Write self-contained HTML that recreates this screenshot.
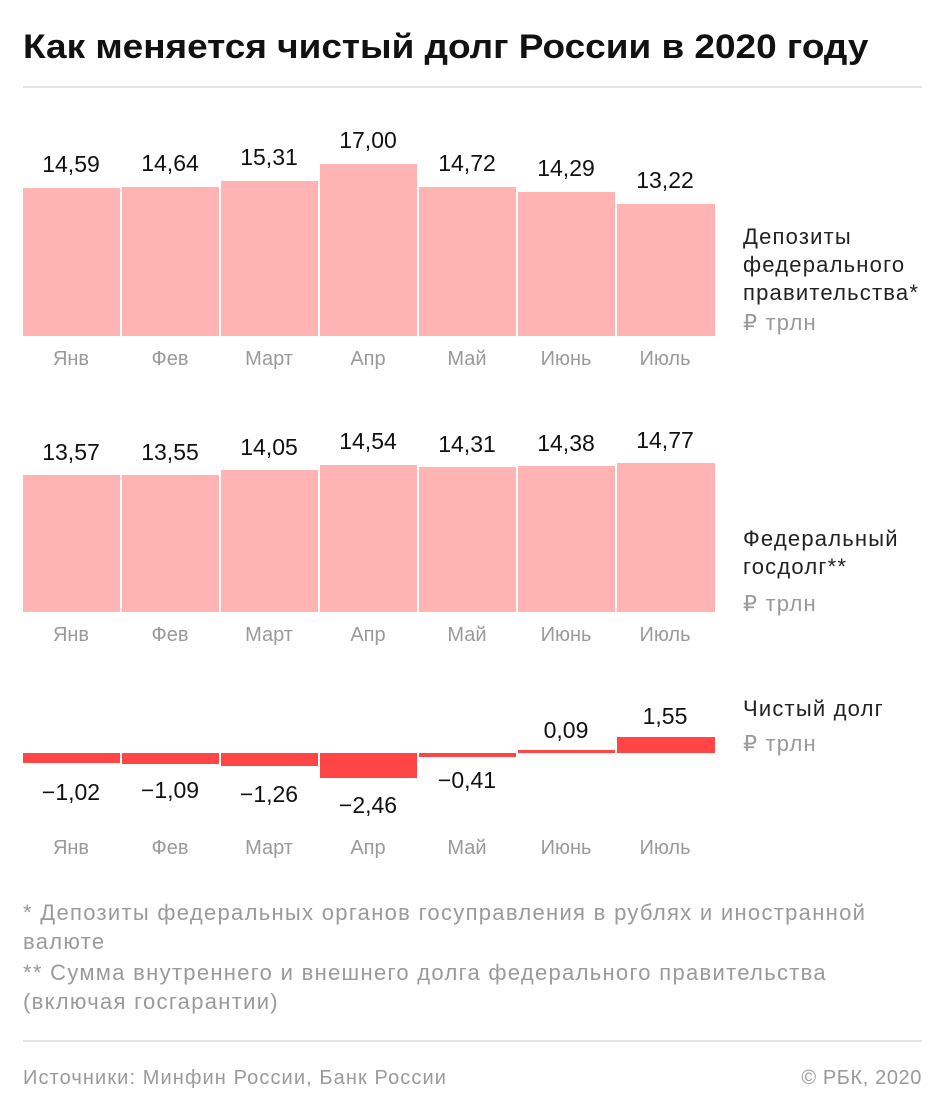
<!DOCTYPE html>
<html><head><meta charset="utf-8"><style>
body{margin:0;width:945px;height:1118px;background:#fff;position:relative;overflow:hidden;font-family:"Liberation Sans","Noto Sans CJK SC",sans-serif}
.a{position:absolute}
.t{position:absolute;height:28px;line-height:28px;white-space:nowrap}
.v{width:120px;text-align:center;font-size:23px;color:#111}
.m{width:120px;text-align:center;font-size:20px;color:#9a9a9a}
.b{position:absolute;background:#ffb3b3}
.r{position:absolute;background:#ff4545}
.l{font-size:22px;color:#222;left:743px;letter-spacing:1.2px}
.g{font-size:22px;color:#9a9a9a}
.f{letter-spacing:1.3px}
</style></head><body>
<div class="t" style="left:23px;top:28px;height:38px;line-height:38px;font-size:34px;font-weight:bold;color:#111;transform:scaleX(1.087);transform-origin:left center">Как меняется чистый долг России в 2020 году</div>
<div class="a" style="left:23px;top:86px;width:899px;height:2px;background:#e4e4e4"></div>

<!-- chart 1 -->
<div class="b" style="left:23px;top:188px;width:97px;height:148px"></div>
<div class="b" style="left:122px;top:187px;width:97px;height:149px"></div>
<div class="b" style="left:221px;top:181px;width:97px;height:155px"></div>
<div class="b" style="left:320px;top:164px;width:97px;height:172px"></div>
<div class="b" style="left:419px;top:187px;width:97px;height:149px"></div>
<div class="b" style="left:518px;top:192px;width:97px;height:144px"></div>
<div class="b" style="left:617px;top:204px;width:98px;height:132px"></div>
<div class="t v" style="left:11px;top:150px">14,59</div>
<div class="t v" style="left:110px;top:149px">14,64</div>
<div class="t v" style="left:209px;top:143px">15,31</div>
<div class="t v" style="left:308px;top:126px">17,00</div>
<div class="t v" style="left:407px;top:149px">14,72</div>
<div class="t v" style="left:506px;top:154px">14,29</div>
<div class="t v" style="left:605px;top:166px">13,22</div>
<div class="t m" style="left:11px;top:345px">Янв</div>
<div class="t m" style="left:110px;top:345px">Фев</div>
<div class="t m" style="left:209px;top:345px">Март</div>
<div class="t m" style="left:308px;top:345px">Апр</div>
<div class="t m" style="left:407px;top:345px">Май</div>
<div class="t m" style="left:506px;top:345px">Июнь</div>
<div class="t m" style="left:605px;top:345px">Июль</div>
<div class="t l" style="top:223px">Депозиты</div>
<div class="t l" style="top:251px">федерального</div>
<div class="t l" style="top:279px">правительства*</div>
<div class="t l g" style="top:309px">₽ трлн</div>

<!-- chart 2 -->
<div class="b" style="left:23px;top:475px;width:97px;height:137px"></div>
<div class="b" style="left:122px;top:475px;width:97px;height:137px"></div>
<div class="b" style="left:221px;top:470px;width:97px;height:142px"></div>
<div class="b" style="left:320px;top:465px;width:97px;height:147px"></div>
<div class="b" style="left:419px;top:467px;width:97px;height:145px"></div>
<div class="b" style="left:518px;top:466px;width:97px;height:146px"></div>
<div class="b" style="left:617px;top:463px;width:98px;height:149px"></div>
<div class="t v" style="left:11px;top:438px">13,57</div>
<div class="t v" style="left:110px;top:438px">13,55</div>
<div class="t v" style="left:209px;top:433px">14,05</div>
<div class="t v" style="left:308px;top:427px">14,54</div>
<div class="t v" style="left:407px;top:430px">14,31</div>
<div class="t v" style="left:506px;top:429px">14,38</div>
<div class="t v" style="left:605px;top:426px">14,77</div>
<div class="t m" style="left:11px;top:621px">Янв</div>
<div class="t m" style="left:110px;top:621px">Фев</div>
<div class="t m" style="left:209px;top:621px">Март</div>
<div class="t m" style="left:308px;top:621px">Апр</div>
<div class="t m" style="left:407px;top:621px">Май</div>
<div class="t m" style="left:506px;top:621px">Июнь</div>
<div class="t m" style="left:605px;top:621px">Июль</div>
<div class="t l" style="top:525px">Федеральный</div>
<div class="t l" style="top:553px">госдолг**</div>
<div class="t l g" style="top:590px">₽ трлн</div>

<!-- chart 3 -->
<div class="r" style="left:23px;top:753px;width:97px;height:10px"></div>
<div class="r" style="left:122px;top:753px;width:97px;height:11px"></div>
<div class="r" style="left:221px;top:753px;width:97px;height:13px"></div>
<div class="r" style="left:320px;top:753px;width:97px;height:25px"></div>
<div class="r" style="left:419px;top:753px;width:97px;height:4px"></div>
<div class="r" style="left:518px;top:750px;width:97px;height:3px"></div>
<div class="r" style="left:617px;top:737px;width:98px;height:16px"></div>
<div class="t v" style="left:11px;top:778px">−1,02</div>
<div class="t v" style="left:110px;top:776px">−1,09</div>
<div class="t v" style="left:209px;top:780px">−1,26</div>
<div class="t v" style="left:308px;top:791px">−2,46</div>
<div class="t v" style="left:407px;top:766px">−0,41</div>
<div class="t v" style="left:506px;top:716px">0,09</div>
<div class="t v" style="left:605px;top:702px">1,55</div>
<div class="t m" style="left:11px;top:834px">Янв</div>
<div class="t m" style="left:110px;top:834px">Фев</div>
<div class="t m" style="left:209px;top:834px">Март</div>
<div class="t m" style="left:308px;top:834px">Апр</div>
<div class="t m" style="left:407px;top:834px">Май</div>
<div class="t m" style="left:506px;top:834px">Июнь</div>
<div class="t m" style="left:605px;top:834px">Июль</div>
<div class="t l" style="top:695px">Чистый долг</div>
<div class="t l g" style="top:730px">₽ трлн</div>

<!-- footnotes -->
<div class="t g f" style="left:23px;top:899px">* Депозиты федеральных органов госуправления в рублях и иностранной</div>
<div class="t g f" style="left:23px;top:928px">валюте</div>
<div class="t g f" style="left:23px;top:959px">** Сумма внутреннего и внешнего долга федерального правительства</div>
<div class="t g f" style="left:23px;top:988px">(включая госгарантии)</div>
<div class="a" style="left:23px;top:1040px;width:899px;height:2px;background:#e4e4e4"></div>
<div class="t" style="left:23px;top:1064px;font-size:20px;color:#9a9a9a;letter-spacing:1.1px">Источники: Минфин России, Банк России</div>
<div class="t" style="right:23px;top:1064px;font-size:20px;color:#9a9a9a;letter-spacing:0.6px">© РБК, 2020</div>
</body></html>
